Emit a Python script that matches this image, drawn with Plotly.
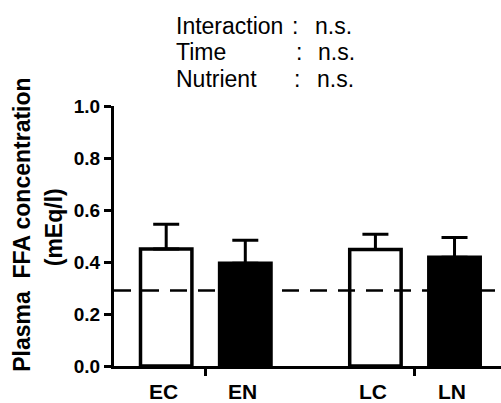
import plotly.graph_objects as go

categories = ["EC", "EN", "LC", "LN"]
means = [0.45, 0.395, 0.448, 0.418]
sem = [0.095, 0.089, 0.059, 0.076]
fills = ["white", "black", "white", "black"]
baseline = 0.29
ytick_vals = [0.0, 0.2, 0.4, 0.6, 0.8, 1.0]
ytick_text = ["0.0", "0.2", "0.4", "0.6", "0.8", "1.0"]
stat_labels = ["Interaction", "Time", "Nutrient"]
stat_results = ["n.s.", "n.s.", "n.s."]

W, H = 501, 403
L, R, T, B = 113.5, 0, 105.7, 37
PW = W - L - R
PH = H - T - B
GROUP_GAP = 2.645
xpos = [(i // 2) * GROUP_GAP + (i % 2) for i in range(len(categories))]
group_ticks = [g * GROUP_GAP + 0.5 for g in range(2)]
XL = -0.66
XR = XL + PW / 79.2

def px_x(p):
    return (p - L) / PW

def px_y(p):
    return (H - B - p) / PH

FONT = "Liberation Sans, Arial, sans-serif"

fig = go.Figure()
fig.add_trace(go.Bar(
    x=xpos, y=means, width=0.65,
    marker=dict(color=fills, line=dict(color="black", width=3.5)),
    error_y=dict(type="data", array=sem, arrayminus=[0] * len(sem),
                 symmetric=False, thickness=3, width=13, color="black"),
    showlegend=False, hoverinfo="skip",
))

fig.add_shape(type="line", xref="paper", yref="y", x0=0, x1=1, y0=baseline, y1=baseline,
              line=dict(color="black", width=2.5, dash="17px,11px"), layer="above")

annotations = []
for c, x in zip(categories, xpos):
    annotations.append(dict(text=c, x=x - 0.03, xref="x", y=px_y(392), yref="paper",
                            showarrow=False, xanchor="center", yanchor="middle",
                            font=dict(family=FONT, size=21, color="black", weight="bold")))

line_y = [24.5, 50.5, 77.5]
colon_x = [290, 294, 292]
res_x = [313, 316, 315]
for lab, res, yy, cx, rx in zip(stat_labels, stat_results, line_y, colon_x, res_x):
    f = dict(family=FONT, size=23, color="black")
    annotations.append(dict(text=lab, x=px_x(174), xref="paper", y=px_y(yy + 1), yref="paper",
                            showarrow=False, xanchor="left", yanchor="middle", font=f))
    annotations.append(dict(text=":", x=px_x(cx), xref="paper", y=px_y(yy + 1), yref="paper",
                            showarrow=False, xanchor="left", yanchor="middle", font=f))
    annotations.append(dict(text=res, x=px_x(rx), xref="paper", y=px_y(yy + 1), yref="paper",
                            showarrow=False, xanchor="left", yanchor="middle", font=f))

annotations.append(dict(text="Plasma  FFA concentration", x=px_x(22), xref="paper",
                        y=px_y(225), yref="paper", textangle=-90, showarrow=False,
                        xanchor="center", yanchor="middle",
                        font=dict(family=FONT, size=23, color="black", weight="bold")))
annotations.append(dict(text="(mEq/l)", x=px_x(53.5), xref="paper",
                        y=px_y(227), yref="paper", textangle=-90, showarrow=False,
                        xanchor="center", yanchor="middle",
                        font=dict(family=FONT, size=23, color="black", weight="bold")))

fig.update_layout(
    width=W, height=H,
    margin=dict(l=L, r=R, t=T, b=B, pad=0),
    paper_bgcolor="white", plot_bgcolor="white",
    annotations=annotations,
    xaxis=dict(range=[XL, XR], showgrid=False, zeroline=False, showline=True,
               linecolor="black", linewidth=3, ticks="outside", ticklen=7, tickwidth=3,
               tickcolor="black", tickvals=group_ticks, ticktext=["", ""]),
    yaxis=dict(range=[0, 1], showgrid=False, zeroline=False, showline=True,
               linecolor="black", linewidth=3, ticks="outside", ticklen=7, tickwidth=3,
               tickcolor="black", tickvals=ytick_vals, ticktext=ytick_text,
               tickfont=dict(family=FONT, size=19, color="black", weight="bold"),
               ticklabelstandoff=0),
)

fig.write_html("out.html", config={"displayModeBar": False},
               post_script="document.body.style.margin='0';")
